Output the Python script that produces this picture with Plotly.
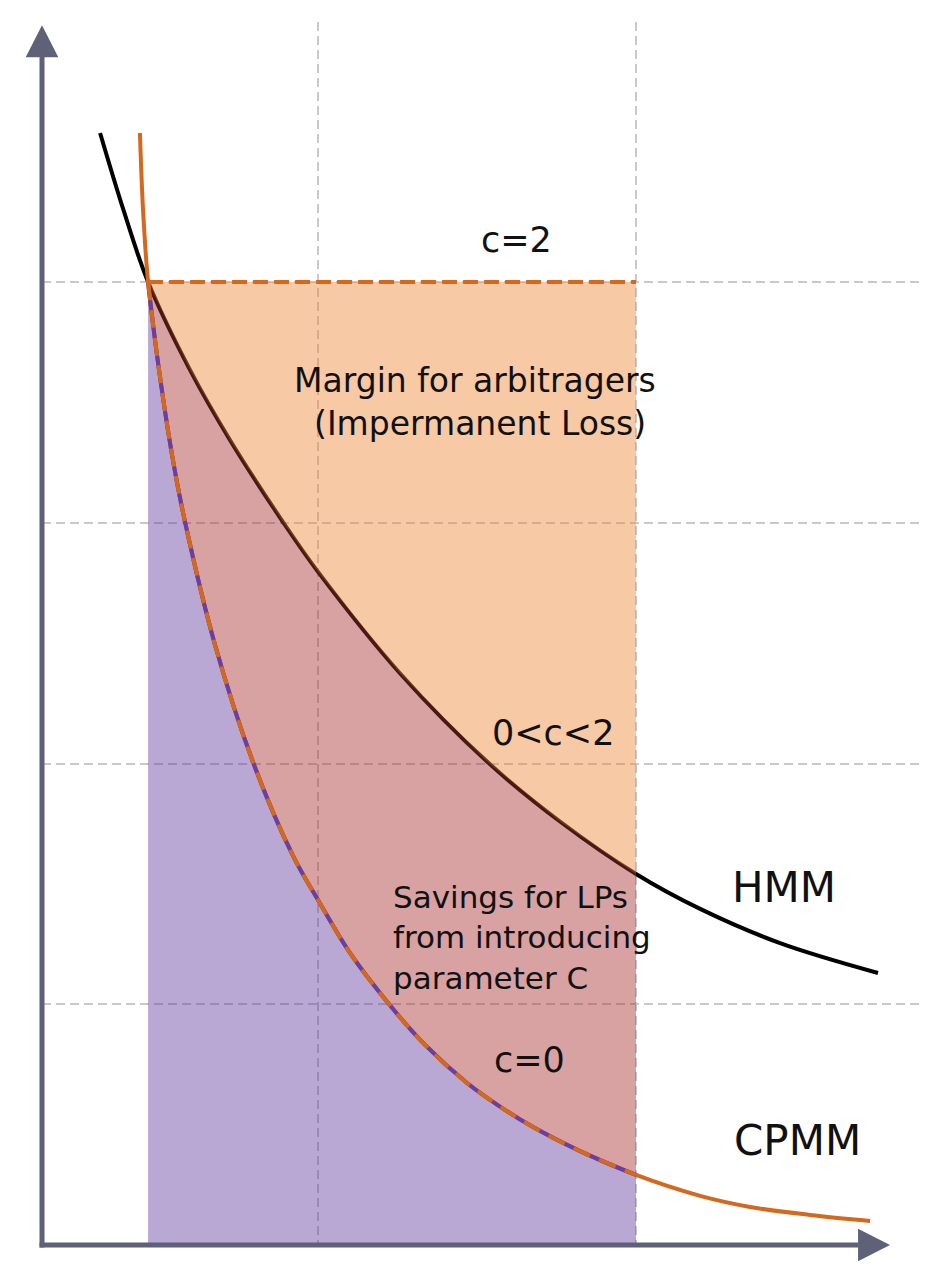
import plotly.graph_objects as go

# --- dados (unidades arbitrarias do diagrama) ---
HMM_X = [0.242, 0.342, 0.442, 0.617, 0.783, 1.004, 1.150, 1.492, 1.854,
         2.158, 2.475, 2.742, 3.075, 3.483]
HMM_Y = [4.619, 4.291, 4.000, 3.634, 3.344, 3.003, 2.796, 2.374, 2.008,
         1.759, 1.541, 1.396, 1.254, 1.130]

CPMM_X = [0.408, 0.421, 0.442, 0.483, 0.542, 0.596, 0.721, 0.879, 1.046,
          1.150, 1.283, 1.442, 1.596, 1.771, 1.908, 2.046, 2.242, 2.475,
          2.742, 2.950, 3.200, 3.450]
CPMM_Y = [4.619, 4.299, 4.000, 3.668, 3.281, 3.003, 2.492, 2.006, 1.616,
          1.433, 1.213, 1.005, 0.831, 0.673, 0.575, 0.490, 0.390, 0.291,
          0.204, 0.158, 0.125, 0.100]

X_LEFT, X_RIGHT = 0.442, 2.475   # limites da regiao sombreada
Y_TOP = 4.0                      # nivel c=2

GRID_X = [1.15, 2.475]
GRID_Y = [1, 2, 3, 4]

X_RANGE = [0, 3.658]
Y_RANGE = [0, 5.08]

LABELS = [
    ("c=2", 1.975, 4.174, 35, "center"),
    ("Margin for arbitragers<br> (Impermanent Loss)", 1.804, 3.501, 33, "center"),
    ("0<c<2", 2.129, 2.126, 35, "center"),
    ("Savings for LPs<br>from introducing<br>parameter C", 1.454, 1.279, 31, "left"),
    ("c=0", 2.029, 0.768, 35, "center"),
    ("HMM", 3.092, 1.487, 42, "center"),
    ("CPMM", 3.146, 0.436, 42, "center"),
]

ORANGE = "#d2691e"
PURPLE = "#6b3fa0"
AXIS_COLOR = "#5f6178"
FONT = "DejaVu Sans"


def dentro(xs, ys):
    pts = [(x, y) for x, y in zip(xs, ys) if X_LEFT <= x <= X_RIGHT]
    return [p[0] for p in pts], [p[1] for p in pts]


hx, hy = dentro(HMM_X, HMM_Y)
cx, cy = dentro(CPMM_X, CPMM_Y)

fig = go.Figure()

# curvas base (ficam por baixo das areas)
fig.add_trace(go.Scatter(x=HMM_X, y=HMM_Y, mode="lines",
                         line=dict(color="black", width=4, shape="spline")))
fig.add_trace(go.Scatter(x=CPMM_X, y=CPMM_Y, mode="lines",
                         line=dict(color=ORANGE, width=4, shape="spline")))

# areas
fig.add_trace(go.Scatter(x=cx + [X_RIGHT, X_LEFT], y=cy + [0, 0],
                         fill="toself", fillcolor="rgba(99,62,157,0.45)",
                         mode="lines", line=dict(width=0)))
fig.add_trace(go.Scatter(x=hx + cx[::-1], y=hy + cy[::-1],
                         fill="toself", fillcolor="rgba(170,48,48,0.45)",
                         mode="lines", line=dict(width=0)))
fig.add_trace(go.Scatter(x=hx + [X_RIGHT, X_LEFT], y=hy + [Y_TOP, Y_TOP],
                         fill="toself", fillcolor="rgba(237,135,55,0.45)",
                         mode="lines", line=dict(width=0)))

# CPMM tracejado roxo/laranja dentro da regiao
fig.add_trace(go.Scatter(x=cx, y=cy, mode="lines",
                         line=dict(color=PURPLE, width=4, shape="spline")))
fig.add_trace(go.Scatter(x=cx, y=cy, mode="lines",
                         line=dict(color=ORANGE, width=4, shape="spline",
                                   dash="18px,10px")))

# linha c=2
fig.add_trace(go.Scatter(x=[X_LEFT, X_RIGHT], y=[Y_TOP, Y_TOP], mode="lines",
                         line=dict(color=ORANGE, width=4, dash="15px,6px")))

for txt, x, y, size, align in LABELS:
    fig.add_annotation(x=x, y=y, text=txt, showarrow=False,
                       xanchor="left" if align == "left" else "center",
                       align=align, font=dict(family=FONT, size=size, color="#111"))


# eixos com setas (coordenadas paper, sem recorte)
def xp(v):
    return (v - X_RANGE[0]) / (X_RANGE[1] - X_RANGE[0])


def yp(v):
    return (v - Y_RANGE[0]) / (Y_RANGE[1] - Y_RANGE[0])


shapes = [
    dict(type="line", xref="paper", yref="paper", x0=0, y0=yp(-0.01),
         x1=0, y1=yp(4.94), line=dict(color=AXIS_COLOR, width=5)),
    dict(type="line", xref="paper", yref="paper", x0=xp(-0.01), y0=0,
         x1=xp(3.40), y1=0, line=dict(color=AXIS_COLOR, width=5)),
    dict(type="path", xref="paper", yref="paper", fillcolor=AXIS_COLOR,
         line=dict(width=0),
         path=f"M {xp(-0.068)},{yp(4.934)} L {xp(0.068)},{yp(4.934)} "
              f"L 0,{yp(5.067)} Z"),
    dict(type="path", xref="paper", yref="paper", fillcolor=AXIS_COLOR,
         line=dict(width=0),
         path=f"M {xp(3.40)},{yp(-0.067)} L {xp(3.40)},{yp(0.067)} "
              f"L {xp(3.533)},0 Z"),
]

# margens descontam os 8px do body da pagina
fig.update_layout(
    width=938, height=1270,
    margin=dict(l=34, r=26, t=14, b=33),
    paper_bgcolor="white", plot_bgcolor="white",
    showlegend=False,
    shapes=shapes,
    xaxis=dict(range=X_RANGE, tickvals=GRID_X, showticklabels=False,
               showgrid=True, gridcolor="#c8c8ce", gridwidth=1.5,
               griddash="9px,5px", zeroline=False, showline=False,
               ticks="", fixedrange=True),
    yaxis=dict(range=Y_RANGE, tickvals=GRID_Y, showticklabels=False,
               showgrid=True, gridcolor="#c8c8ce", gridwidth=1.5,
               griddash="9px,5px", zeroline=False, showline=False,
               ticks="", fixedrange=True),
)

fig.write_html("out.html")
